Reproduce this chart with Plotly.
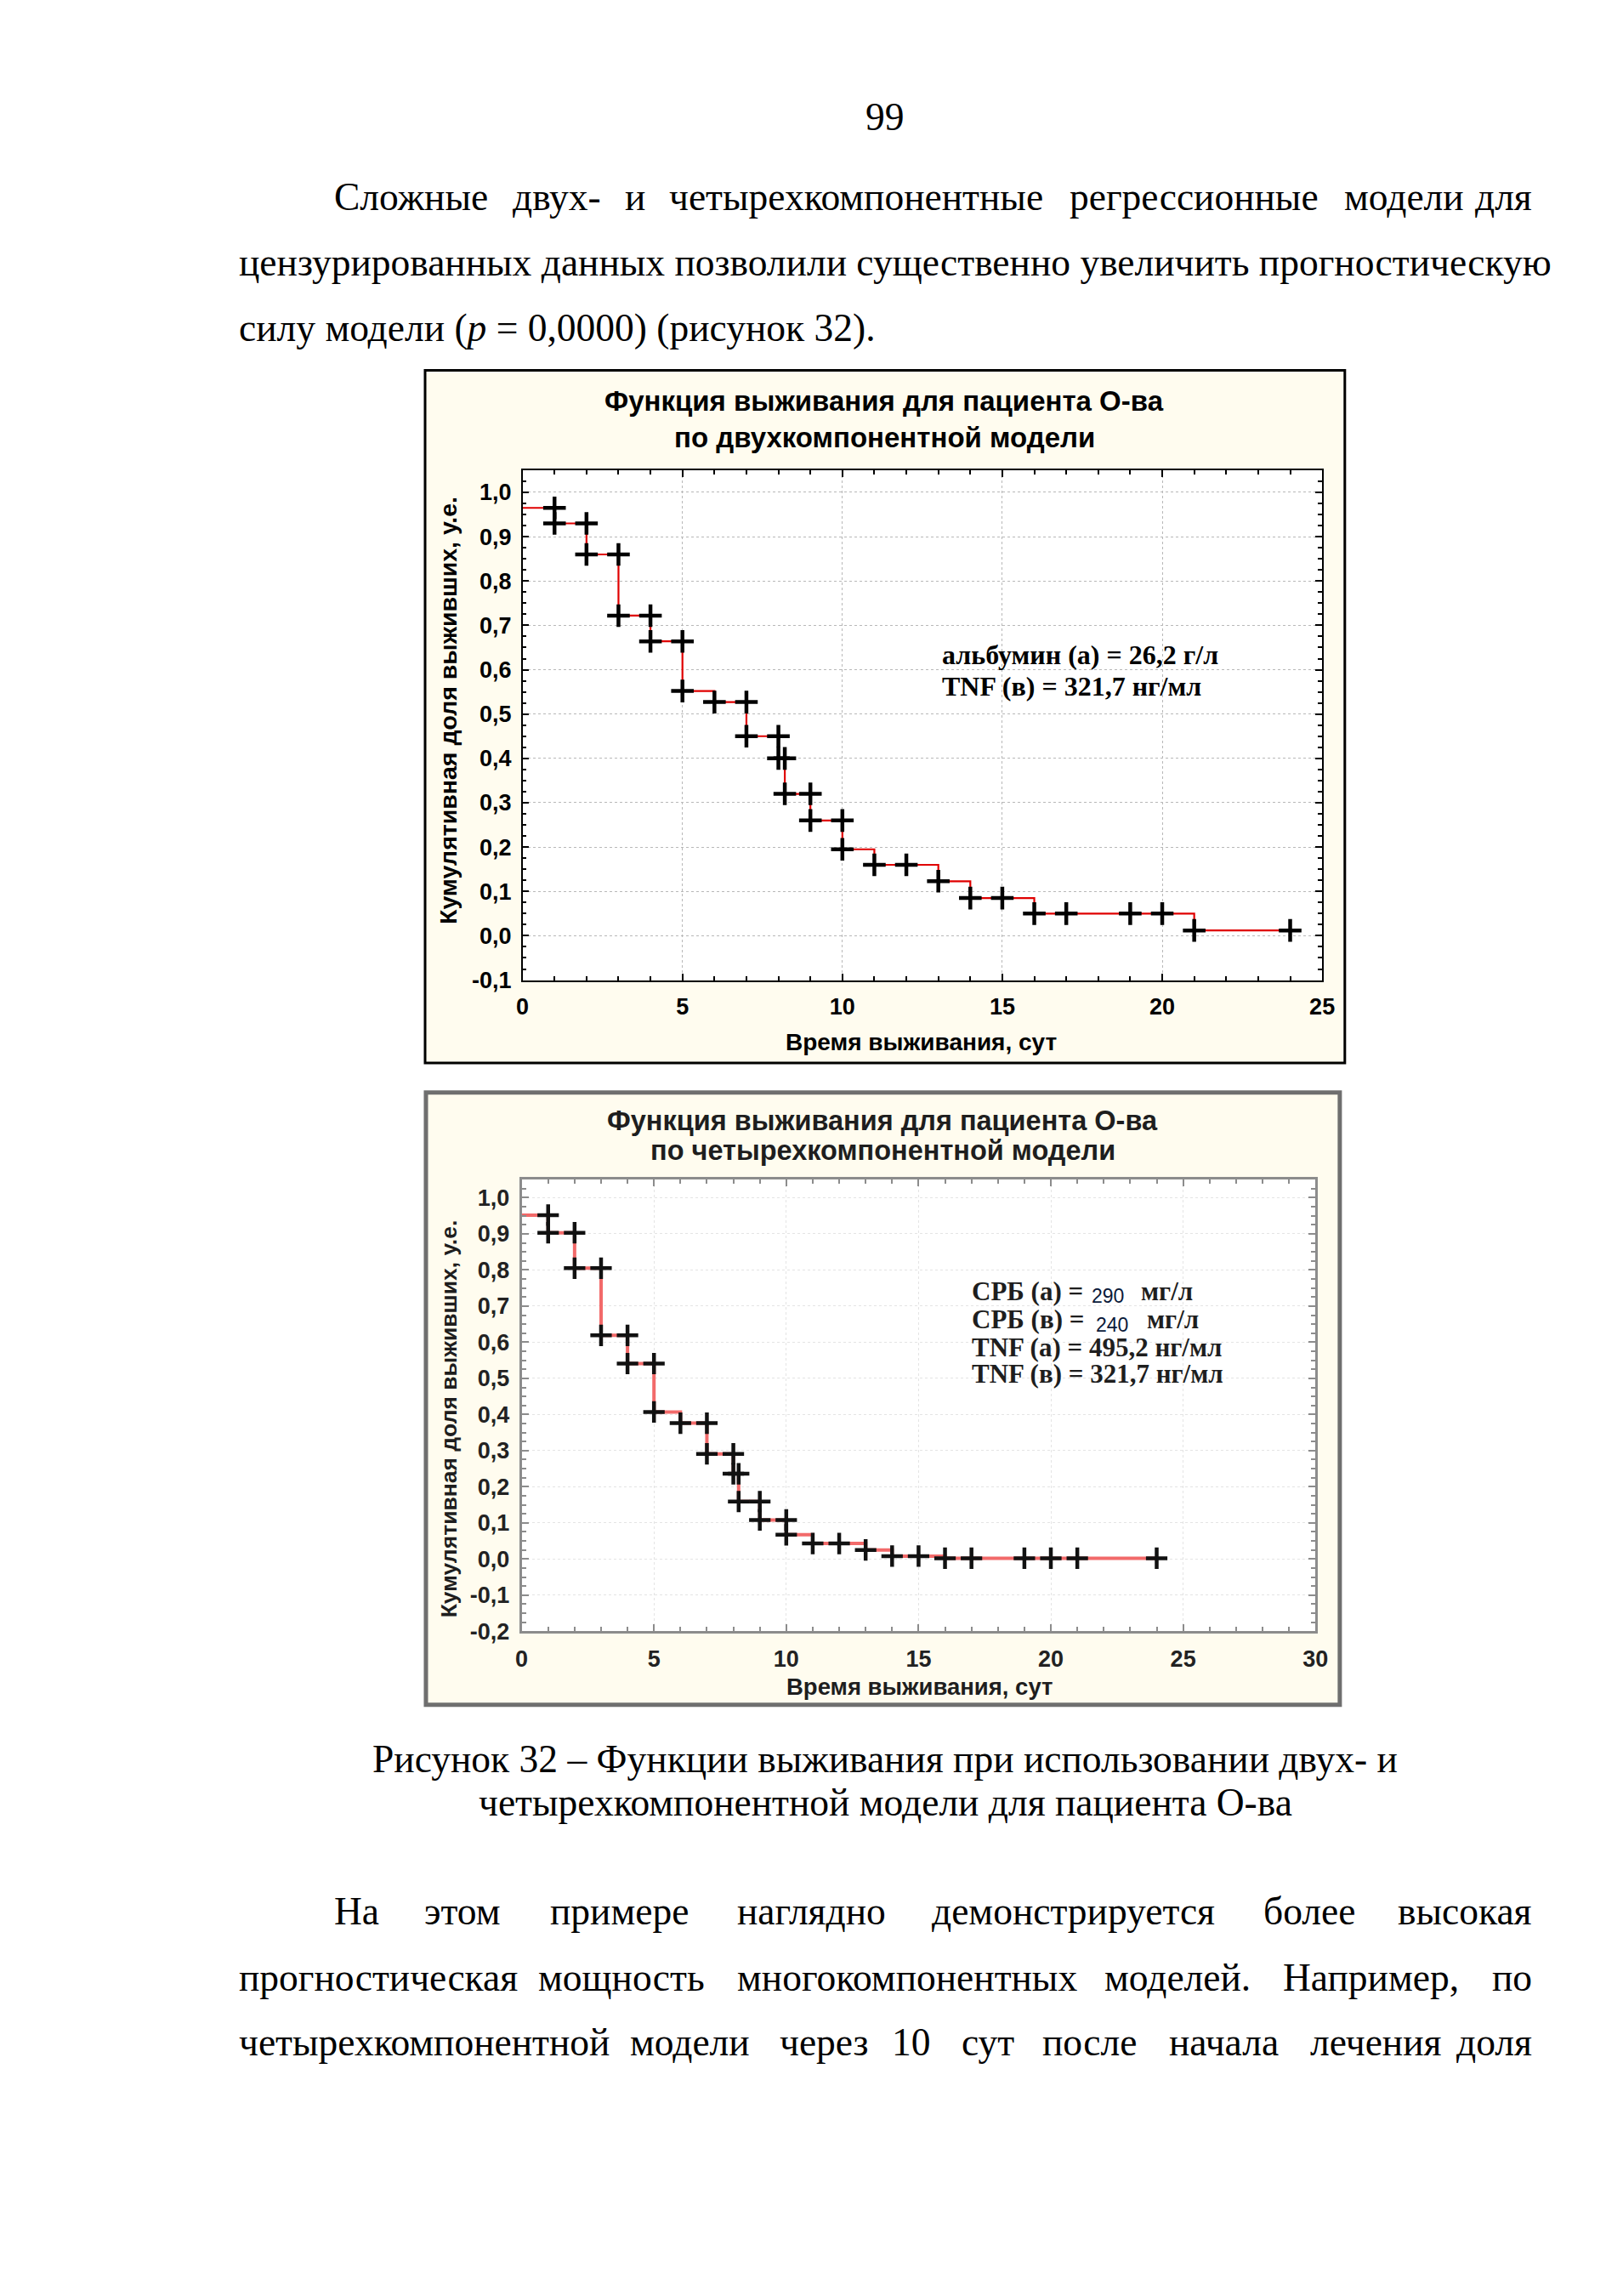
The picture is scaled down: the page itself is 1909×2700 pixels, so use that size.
import plotly.graph_objects as go

# ---------------- data ----------------
# two-component model: step function (time, survival)
t1 = [0, 1, 2, 3, 4, 5, 6, 7, 8, 8.2, 9, 10, 11, 13, 14, 16, 21, 24]
s1 = [0.965, 0.93, 0.86, 0.722, 0.664, 0.552, 0.527, 0.45, 0.40, 0.32, 0.26,
      0.195, 0.16, 0.123, 0.085, 0.05, 0.012, 0.012]
# two-component model: "+" marks
m_t1 = [1, 1, 2, 2, 3, 3, 4, 4, 5, 5, 6, 7, 7, 8, 8, 8.2, 8.2, 9, 9, 10, 10,
        11, 12, 13, 14, 15, 16, 17, 19, 20, 21, 24]
m_s1 = [0.965, 0.93, 0.93, 0.86, 0.86, 0.722, 0.722, 0.664, 0.664, 0.552,
        0.527, 0.527, 0.45, 0.45, 0.40, 0.40, 0.32, 0.32, 0.26, 0.26, 0.195,
        0.16, 0.16, 0.123, 0.085, 0.085, 0.05, 0.05, 0.05, 0.05, 0.012, 0.012]

# four-component model
t2 = [0, 1, 2, 3, 4, 5, 6, 7, 8, 8.2, 9, 10, 11, 13, 14, 16, 24]
s2 = [0.952, 0.903, 0.805, 0.619, 0.541, 0.407, 0.376, 0.291, 0.236, 0.159,
      0.108, 0.067, 0.043, 0.025, 0.008, 0.002, 0.002]
m_t2 = [1, 1, 2, 2, 3, 3, 4, 4, 5, 5, 6, 7, 7, 8, 8, 8.2, 8.2, 9, 9, 10, 10,
        11, 12, 13, 14, 15, 16, 17, 19, 20, 21, 24]
m_s2 = [0.952, 0.903, 0.903, 0.805, 0.805, 0.619, 0.619, 0.541, 0.541, 0.407,
        0.376, 0.376, 0.291, 0.291, 0.236, 0.236, 0.159, 0.159, 0.108, 0.108,
        0.067, 0.043, 0.043, 0.025, 0.008, 0.008, 0.002, 0.002, 0.002, 0.002,
        0.002, 0.002]

# ticks
x_ticks1 = [0, 5, 10, 15, 20, 25]
x_ticks2 = [0, 5, 10, 15, 20, 25, 30]
y_ticks1 = [-0.1, 0.0, 0.1, 0.2, 0.3, 0.4, 0.5, 0.6, 0.7, 0.8, 0.9, 1.0]
y_labels1 = ["-0,1", "0,0", "0,1", "0,2", "0,3", "0,4", "0,5", "0,6", "0,7",
             "0,8", "0,9", "1,0"]
y_ticks2 = [-0.2, -0.1, 0.0, 0.1, 0.2, 0.3, 0.4, 0.5, 0.6, 0.7, 0.8, 0.9, 1.0]
y_labels2 = ["-0,2", "-0,1", "0,0", "0,1", "0,2", "0,3", "0,4", "0,5", "0,6",
             "0,7", "0,8", "0,9", "1,0"]

# ---------------- layout helpers ----------------
W, H = 1909, 2700


def px(x):
    return x / W


def py(y):
    return 1 - y / H


SERIF = "Liberation Serif, Times New Roman, serif"
SANS = "Liberation Sans, Arial, sans-serif"
CREAM = "#fffcef"

# plot areas (pixels)
P1 = dict(l=614, r=1566, t=556, b=1159)
P2 = dict(l=613, r=1558, t=1395, b=1929)

fig = go.Figure()

fig.add_trace(go.Scatter(x=t1, y=s1, mode="lines", line=dict(color="#e00000", width=2.2, shape="hv"),
                         xaxis="x", yaxis="y", showlegend=False, hoverinfo="skip"))
fig.add_trace(go.Scatter(x=m_t1, y=m_s1, mode="markers",
                         marker=dict(symbol="cross-thin", size=19, line=dict(color="black", width=4.5)),
                         xaxis="x", yaxis="y", showlegend=False))
fig.add_trace(go.Scatter(x=t2, y=s2, mode="lines", line=dict(color="#f26a6a", width=4, shape="hv"),
                         xaxis="x2", yaxis="y2", showlegend=False, hoverinfo="skip"))
fig.add_trace(go.Scatter(x=m_t2, y=m_s2, mode="markers",
                         marker=dict(symbol="cross-thin", size=18, line=dict(color="#111111", width=4.5)),
                         xaxis="x2", yaxis="y2", showlegend=False))


def axis_common(color, lw, gridcolor, tcolor):
    return dict(showline=True, linecolor=color, linewidth=lw, mirror="ticks",
                ticks="inside", ticklen=8, tickwidth=1.5, tickcolor=color,
                showgrid=True, gridcolor=gridcolor, griddash="dot", gridwidth=1.2,
                zeroline=False, tickfont=dict(family=SANS, size=27, color=tcolor, weight="bold"),
                ticklabelstandoff=6)


xa1 = axis_common("black", 1.5, "#b8b8b8", "#000000")
xa1.update(domain=[px(P1["l"]), px(P1["r"])], range=[0, 25], tickmode="array", tickvals=x_ticks1,
           minor=dict(dtick=1, tick0=0, ticks="inside", ticklen=5, tickcolor="black", showgrid=False),
           anchor="y")
ya1 = axis_common("black", 1.5, "#b8b8b8", "#000000")
ya1.update(domain=[py(P1["b"]), py(P1["t"])], range=[-0.1, 1.05], tickmode="array",
           tickvals=y_ticks1, ticktext=y_labels1,
           minor=dict(dtick=0.025, tick0=0, ticks="inside", ticklen=5, tickcolor="black", showgrid=False),
           anchor="x")

xa2 = axis_common("#8c8c8c", 3, "#e4e4e4", "#222222")
xa2.update(domain=[px(P2["l"]), px(P2["r"])], range=[0, 30], tickmode="array", tickvals=x_ticks2,
           minor=dict(dtick=1, tick0=0, ticks="inside", ticklen=5, tickcolor="#8c8c8c", showgrid=False),
           anchor="y2")
ya2 = axis_common("#8c8c8c", 3, "#e4e4e4", "#222222")
ya2.update(domain=[py(P2["b"]), py(P2["t"])], range=[-0.2, 1.05], tickmode="array",
           tickvals=y_ticks2, ticktext=y_labels2,
           minor=dict(dtick=0.025, tick0=0, ticks="inside", ticklen=5, tickcolor="#8c8c8c", showgrid=False),
           anchor="x2")

shapes = [
    dict(type="rect", xref="paper", yref="paper", x0=px(498), x1=px(1593), y0=py(1257), y1=py(438),
         fillcolor=CREAM, line=dict(color="black", width=3), layer="below"),
    dict(type="rect", xref="paper", yref="paper", x0=px(P1["l"]), x1=px(P1["r"]), y0=py(P1["b"]), y1=py(P1["t"]),
         fillcolor="white", line=dict(width=0), layer="below"),
    dict(type="rect", xref="paper", yref="paper", x0=px(499), x1=px(1587), y0=py(2016), y1=py(1292),
         fillcolor=CREAM, line=dict(color="#6f6f6f", width=5), layer="below"),
    dict(type="rect", xref="paper", yref="paper", x0=px(P2["l"]), x1=px(P2["r"]), y0=py(P2["b"]), y1=py(P2["t"]),
         fillcolor="white", line=dict(width=0), layer="below"),
]

ann = []


def txt(text, x, y, size, family=SERIF, xanchor="center", color="black", angle=0, yanchor="middle"):
    ann.append(dict(text=text, x=px(x), y=py(y), xref="paper", yref="paper", showarrow=False,
                    xanchor=xanchor, yanchor=yanchor, textangle=angle,
                    font=dict(family=family, size=size, color=color)))


FS = 45.5
# page number
txt("99", 1046, 138, FS)
# paragraph 1
for w, x, a in [("Сложные", 388, "left"), ("двух-", 655, "center"), ("и", 748, "center"),
                ("четырехкомпонентные", 1011, "center"), ("регрессионные", 1414, "center"),
                ("модели", 1664, "center"), ("для", 1818, "right")]:
    txt(w, x, 233, FS, xanchor=a)
txt("цензурированных данных позволили существенно увеличить прогностическую", 274, 310, FS, xanchor="left")
txt("силу модели (<i>p</i> = 0,0000) (рисунок 32).", 274, 388, FS, xanchor="left")

# chart 1 texts
txt("<b>Функция выживания для пациента О-ва</b>", 1045, 474, 33, family=SANS)
txt("<b>по двухкомпонентной модели</b>", 1045, 517, 33, family=SANS)
txt("<b>Кумулятивная доля выживших, у.е.</b>", 526, 840, 28.5, family=SANS, angle=-90)
txt("<b>Время выживания, сут</b>", 1089, 1232, 28, family=SANS)
txt("<b>альбумин (а) = 26,2 г/л</b>", 1111, 774, 32, xanchor="left")
txt("<b>TNF (в) = 321,7 нг/мл</b>", 1111, 812, 32, xanchor="left")

# chart 2 texts
C2 = "#1e1e1e"
txt("<b>Функция выживания для пациента О-ва</b>", 1043, 1325, 32.5, family=SANS, color=C2)
txt("<b>по четырехкомпонентной модели</b>", 1043, 1361, 32.5, family=SANS, color=C2)
txt("<b>Кумулятивная доля выживших, у.е.</b>", 526, 1678, 26.5, family=SANS, angle=-90, color=C2)
txt("<b>Время выживания, сут</b>", 1087, 1995, 27.5, family=SANS, color=C2)
txt("<b>СРБ (а) =</b>", 1147, 1527, 31, xanchor="left", color=C2)
txt("290", 1290, 1533, 23, family=SANS, xanchor="left", color="#0a1a3a")
txt("<b>мг/л</b>", 1348, 1527, 31, xanchor="left", color=C2)
txt("<b>СРБ (в) =</b>", 1147, 1560, 31, xanchor="left", color=C2)
txt("240", 1295, 1567, 23, family=SANS, xanchor="left", color="#0a1a3a")
txt("<b>мг/л</b>", 1355, 1560, 31, xanchor="left", color=C2)
txt("<b>TNF (а) = 495,2 нг/мл</b>", 1147, 1593, 31, xanchor="left", color=C2)
txt("<b>TNF (в) = 321,7 нг/мл</b>", 1147, 1625, 31, xanchor="left", color=C2)

# caption
txt("Рисунок 32 – Функции выживания при использовании двух- и", 1046, 2080, FS)
txt("четырехкомпонентной модели для пациента О-ва", 1046, 2131, FS)

# paragraph 2
for w, x, a in [("На", 388, "left"), ("этом", 543, "center"), ("примере", 729, "center"),
                ("наглядно", 958, "center"), ("демонстрируется", 1270, "center"),
                ("более", 1551, "center"), ("высокая", 1818, "right")]:
    txt(w, x, 2260, FS, xanchor=a)
for w, x, a in [("прогностическая", 274, "left"), ("мощность", 732, "center"),
                ("многокомпонентных", 1072, "center"), ("моделей.", 1394, "center"),
                ("Например,", 1624, "center"), ("по", 1818, "right")]:
    txt(w, x, 2338, FS, xanchor=a)
for w, x, a in [("четырехкомпонентной", 274, "left"), ("модели", 813, "center"), ("через", 973, "center"),
                ("10", 1077, "center"), ("сут", 1168, "center"), ("после", 1289, "center"),
                ("начала", 1449, "center"), ("лечения", 1630, "center"), ("доля", 1818, "right")]:
    txt(w, x, 2415, FS, xanchor=a)

fig.update_layout(width=W, height=H, margin=dict(l=0, r=0, t=0, b=0),
                  paper_bgcolor="white", plot_bgcolor="white",
                  xaxis=xa1, yaxis=ya1, xaxis2=xa2, yaxis2=ya2,
                  shapes=shapes, annotations=ann, showlegend=False)

fig.write_html("out.html", config={"displayModeBar": False},
               post_script="document.body.style.margin='0';document.body.style.padding='0';")
